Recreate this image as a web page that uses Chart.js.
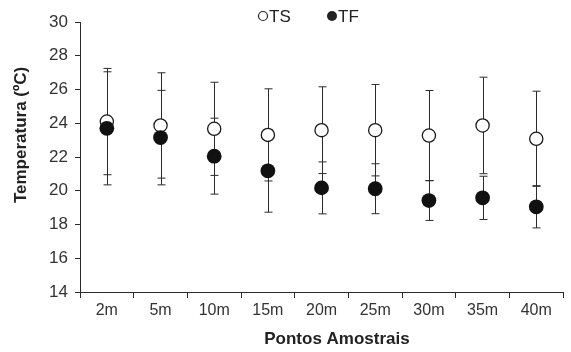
<!DOCTYPE html>
<html>
<head>
<title>Temperatura</title>
<script src="https://cdn.jsdelivr.net/npm/chart.js@4.4.1/dist/chart.umd.min.js"></script>
<style>
body { margin: 0; background: #fff; }
#wrap { width: 571px; height: 352px; }
</style>
</head>
<body>
<div id="wrap"><canvas id="chart" width="571" height="352"></canvas></div>
<script>
// data
var pontos = ["2m", "5m", "10m", "15m", "20m", "25m", "30m", "35m", "40m"];
var tsMedia = [24.1, 23.87, 23.67, 23.31, 23.59, 23.59, 23.27, 23.87, 23.08];
var tsDesvio = [3.15, 3.12, 2.76, 2.73, 2.57, 2.71, 2.67, 2.86, 2.82];
var tfMedia = [23.7, 23.15, 22.05, 21.18, 20.17, 20.12, 19.42, 19.58, 19.05];
var tfDesvio = [3.35, 2.8, 2.25, 2.45, 1.54, 1.48, 1.18, 1.28, 1.25];
var yTicks = [14, 16, 18, 20, 22, 24, 26, 28, 30];

var fonte = "'Liberation Sans', Arial, sans-serif";
var cinza = "#2b2b2b";

// error bars, drawn behind the markers
var barrasErro = {
  id: "barrasErro",
  beforeDatasetsDraw: function(chart) {
    var ctx = chart.ctx;
    var x = chart.scales.x, y = chart.scales.y;
    var series = [[tsMedia, tsDesvio], [tfMedia, tfDesvio]];
    ctx.save();
    ctx.strokeStyle = cinza;
    ctx.lineWidth = 1;
    series.forEach(function(s) {
      for (var i = 0; i < pontos.length; i++) {
        var px = Math.round(x.getPixelForValue(i)) + 0.5;
        var top = y.getPixelForValue(s[0][i] + s[1][i]);
        var bot = y.getPixelForValue(s[0][i] - s[1][i]);
        ctx.beginPath();
        ctx.moveTo(px, top); ctx.lineTo(px, bot);
        ctx.moveTo(px - 4, top); ctx.lineTo(px + 4, top);
        ctx.moveTo(px - 4, bot); ctx.lineTo(px + 4, bot);
        ctx.stroke();
      }
    });
    ctx.restore();
  }
};

// legend "○TS  ●TF" and the two axis titles
var textos = {
  id: "textos",
  afterDraw: function(chart) {
    var ctx = chart.ctx;
    ctx.save();
    ctx.fillStyle = "#222";
    ctx.strokeStyle = "#222";
    ctx.textBaseline = "middle";
    ctx.font = "17px " + fonte;
    ctx.lineWidth = 1.2;
    ctx.beginPath(); ctx.arc(263, 16, 4.5, 0, Math.PI * 2); ctx.stroke();
    ctx.fillText("TS", 269, 17);
    ctx.beginPath(); ctx.arc(332, 16, 5, 0, Math.PI * 2); ctx.fill();
    ctx.fillText("TF", 338, 17);

    ctx.font = "bold 17px " + fonte;
    ctx.textAlign = "center";
    ctx.fillText("Pontos Amostrais", 337, 339);
    ctx.translate(21, 135);
    ctx.rotate(-Math.PI / 2);
    ctx.fillText("Temperatura (ºC)", 0, 0);
    ctx.restore();
  }
};

var ctx = document.getElementById("chart");
var chart = new Chart(ctx, {
  type: "line",
  data: {
    labels: pontos,
    datasets: [
      {
        label: "TS",
        data: tsMedia,
        showLine: false,
        pointRadius: 6.6,
        pointBorderWidth: 1.3,
        pointBackgroundColor: "#fff",
        pointBorderColor: "#1a1a1a",
        order: 1
      },
      {
        label: "TF",
        data: tfMedia,
        showLine: false,
        pointRadius: 7.4,
        pointBorderWidth: 0,
        pointBackgroundColor: "#111",
        pointBorderColor: "#111",
        order: 0
      }
    ]
  },
  options: {
    responsive: false,
    animation: false,
    layout: { padding: { top: 22, right: 0, left: 0, bottom: 0 } },
    plugins: { legend: { display: false }, tooltip: { enabled: false } },
    scales: {
      x: {
        offset: true,
        grid: { display: true, drawOnChartArea: false, drawTicks: true, tickLength: 6, color: cinza, offset: true },
        border: { color: cinza, width: 1 },
        ticks: { color: "#333", font: { family: fonte, size: 16 }, padding: 3 },
        afterFit: function(s) { s.height = 60; }
      },
      y: {
        min: 14,
        max: 30,
        afterBuildTicks: function(s) { s.ticks = yTicks.map(function(v) { return { value: v }; }); },
        grid: { display: true, drawOnChartArea: false, drawTicks: true, tickLength: 5, color: cinza },
        border: { color: cinza, width: 1 },
        ticks: { color: "#333", font: { family: fonte, size: 17 }, padding: 7 },
        afterFit: function(s) { s.width = 80; }
      }
    }
  },
  plugins: [barrasErro, textos]
});
</script>
</body>
</html>
